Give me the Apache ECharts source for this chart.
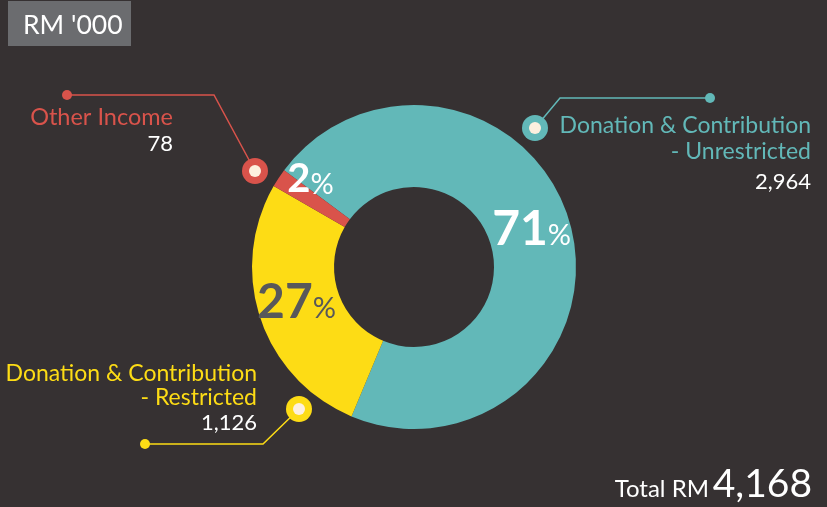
<!DOCTYPE html>
<html><head><meta charset="utf-8">
<script src="https://cdn.jsdelivr.net/npm/echarts@6/dist/echarts.min.js"></script>
<style>html,body{margin:0;padding:0;background:#363132;}#c{width:827px;height:507px;}</style>
</head><body><div id="c"></div>
<script>
const categories = ['Donation & Contribution - Unrestricted', 'Donation & Contribution - Restricted', 'Other Income'];
const values = [2964, 1126, 78];
const sliceColors = ['#62b8b8', '#fddc15', '#d9534b'];
const pctColors = ['#ffffff', '#58585a', '#ffffff'];
const unitLabel = "RM '000";
const totalLabel = 'Total RM';

const FONT = 'Lato, "Open Sans", sans-serif';
const fmt = v => v.toLocaleString('en-US');
const total = values.reduce((a, b) => a + b, 0);

const chart = echarts.init(document.getElementById('c'), null, {renderer: 'canvas'});

const labelOffsets = [[-2, -5], [0, -4], [0, -20]];
const data = values.map((v, i) => ({
  name: categories[i],
  value: v,
  itemStyle: {color: sliceColors[i]},
  label: {
    color: pctColors[i],
    offset: labelOffsets[i],
    rich: {
      big: {fontSize: i === 2 ? 40 : 48, fontWeight: 'bold', color: pctColors[i], fontFamily: FONT},
      pct: {fontSize: 29, color: pctColors[i], fontFamily: FONT, padding: [12, 0, 0, 0]}
    }
  }
}));

function annText(text, x, y, color, size, align, weight) {
  return {type: 'text', z: 10, style: {text, x, y, fill: color, font: (weight || 'normal') + ' ' + size + 'px ' + FONT, align: align || 'right', verticalAlign: 'middle'}};
}
function marker(cx, cy, color) {
  return [
    {type: 'circle', z: 9, shape: {cx, cy, r: 13}, style: {fill: color}},
    {type: 'circle', z: 10, shape: {cx, cy, r: 6}, style: {fill: '#fdf0df'}}
  ];
}
function leader(points, color) {
  const end = points[points.length - 1];
  return [
    {type: 'polyline', z: 8, shape: {points}, style: {stroke: color, lineWidth: 1.5, fill: null}},
    {type: 'circle', z: 9, shape: {cx: end[0], cy: end[1], r: 5}, style: {fill: color}}
  ];
}

const graphics = [
  {type: 'rect', shape: {x: 8, y: 1, width: 123, height: 45}, style: {fill: '#6b6c6f'}},
  annText(unitLabel, 23, 25, '#ffffff', 26.5, 'left'),
  // Other Income
  ...leader([[255, 171], [214, 95], [67, 95]], sliceColors[2]),
  ...marker(255, 171, sliceColors[2]),
  annText('Other Income', 173, 117, sliceColors[2], 23.5),
  annText(fmt(values[2]), 173, 144, '#ffffff', 22),
  // Unrestricted
  ...leader([[535, 128], [560, 98], [710, 98]], sliceColors[0]),
  ...marker(535, 128, sliceColors[0]),
  annText('Donation & Contribution', 811, 126, sliceColors[0], 23),
  annText('- Unrestricted', 811, 152, sliceColors[0], 23),
  annText(fmt(values[0]), 811, 182, '#ffffff', 22),
  // Restricted
  ...leader([[299, 409], [263, 444], [145, 444]], sliceColors[1]),
  ...marker(299, 409, sliceColors[1]),
  annText('Donation & Contribution', 257, 374, sliceColors[1], 23),
  annText('- Restricted', 257, 398, sliceColors[1], 23),
  annText(fmt(values[1]), 257, 423, '#ffffff', 22),
  // Total
  annText(fmt(total), 812, 484, '#ffffff', 39),
  annText(totalLabel, 709, 489, '#ffffff', 24)
];

chart.setOption({
  backgroundColor: '#363132',
  animation: false,
  graphic: graphics,
  series: [{
    type: 'pie',
    center: [414, 267],
    radius: [80, 162],
    startAngle: 143.3,
    clockwise: true,
    avoidLabelOverlap: false,
    silent: true,
    label: {
      show: true,
      position: 'inside',
      formatter: p => '{big|' + Math.round(p.percent) + '}{pct|%}'
    },
    labelLine: {show: false},
    emphasis: {disabled: true},
    data: data
  }]
});
</script></body></html>
